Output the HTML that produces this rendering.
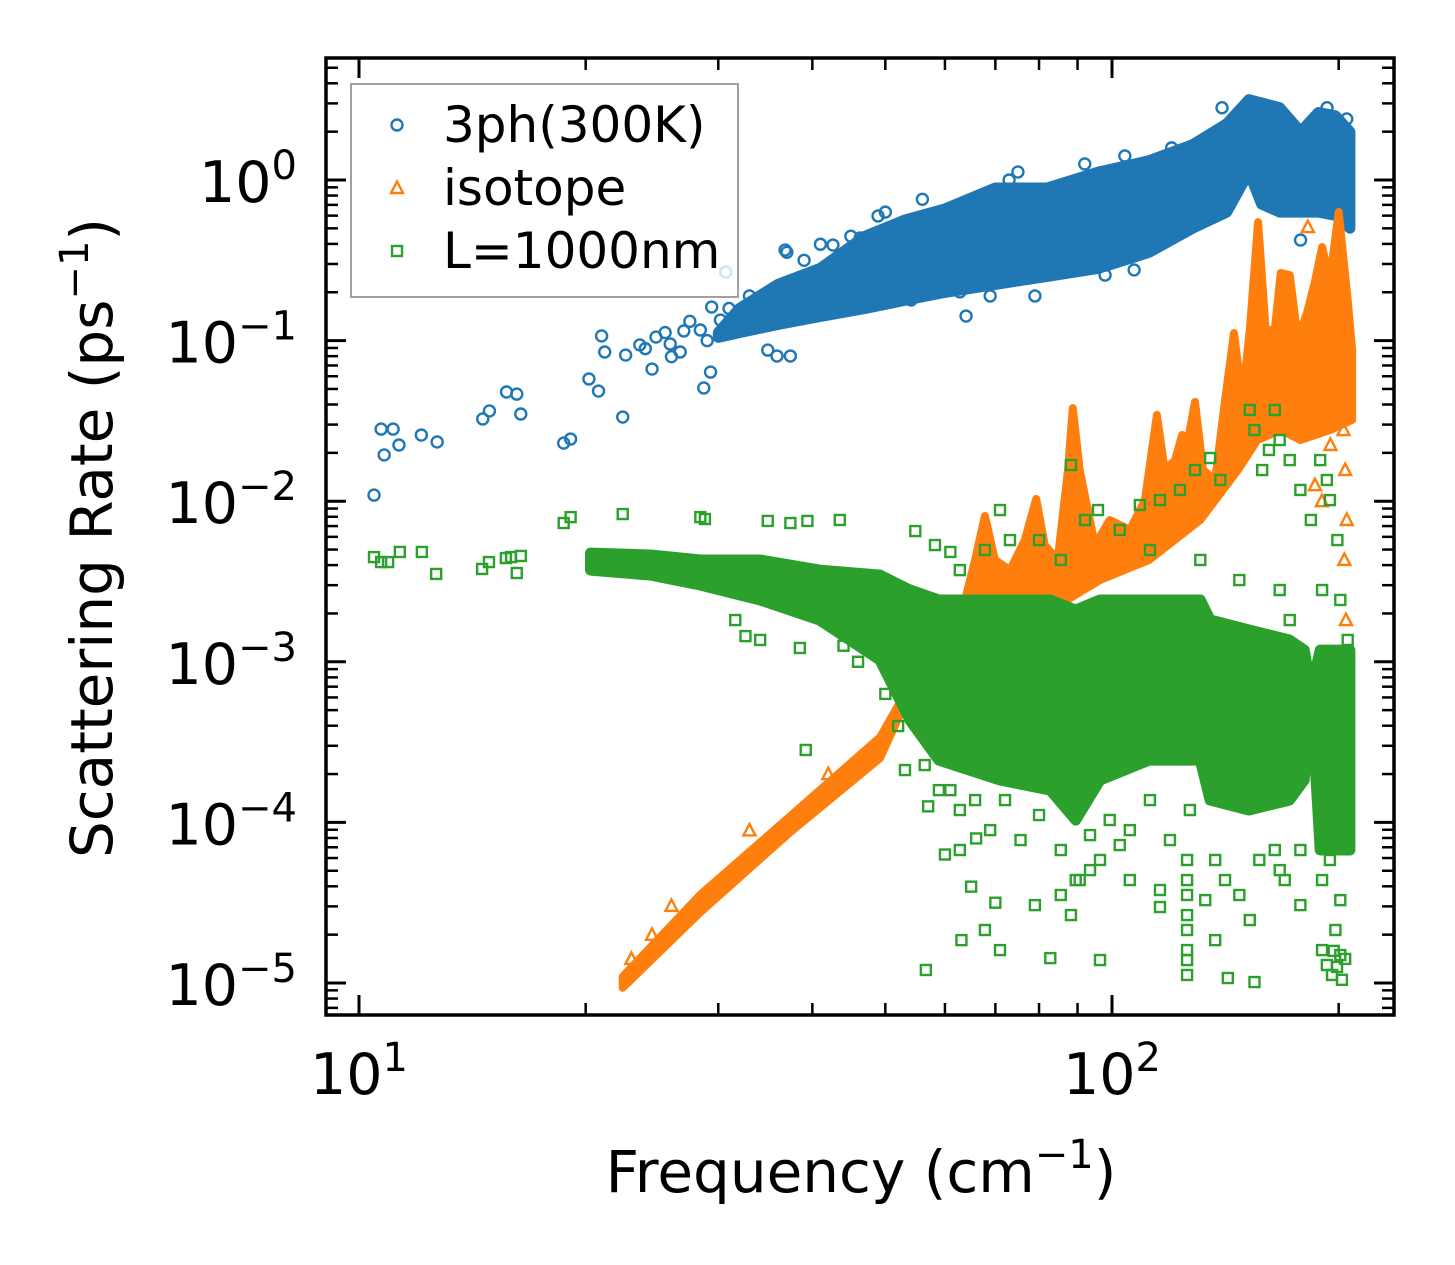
<!DOCTYPE html>
<html><head><meta charset="utf-8"><style>
html,body{margin:0;padding:0;background:#fff;}
svg{display:block;font-family:"DejaVu Sans","Liberation Sans",sans-serif;}
</style></head><body>
<svg id="chart" width="1455" height="1265" viewBox="0 0 1455 1265" xmlns="http://www.w3.org/2000/svg">
<rect width="1455" height="1265" fill="#fff"/>
<g id="plot"></g>
<g id="axes"></g>
</svg>
<script>
// ---- data (frequency in cm^-1, rate given as log10 of ps^-1) ----
const xTickValues = [10, 100];
const xTickExp = ["1", "2"];
const xMinorValues = [20,30,40,50,60,70,80,90,200];
const yTickExps = [0,-1,-2,-3,-4,-5];
const yTickLabels = ["0","\u22121","\u22122","\u22123","\u22124","\u22125"];

const phFreq = [10.47,10.7,10.8,11.1,11.3,12.1,12.7,14.6,14.9,15.7,16.2,16.4,18.7,19.1,20.2,20.8,21.0,21.2,22.4,22.6,23.6,24.5,24.8,25.9,26.7,27.0,28.4,28.7,29.3,29.4,30.2,30.7,32.1,33.0,34.9,35.9,37.4,36.8,38.5,40.1,42.6,44.9,46.3,48.9,52.8,54.1,57.3,59.8,62.8,64.0,68.9,72.1,79.0,86.7,97.9,107,116,123,138,147,157,171,178,201,25.5,27.5,31,33.5,26,29,31.5,24,73,75,92,104,120,140,162,193,205,37,39,41,45,50,56];
const phLogRate = [-1.962,-1.551,-1.712,-1.551,-1.65,-1.588,-1.631,-1.488,-1.438,-1.32,-1.333,-1.457,-1.638,-1.613,-1.239,-1.314,-0.971,-1.071,-1.476,-1.09,-1.027,-1.177,-0.978,-1.021,-1.071,-0.94,-0.934,-1.295,-1.196,-0.791,-0.872,-0.573,-0.822,-0.722,-1.059,-1.096,-1.096,-0.436,-0.716,-0.753,-0.405,-0.498,-0.361,-0.224,-0.548,-0.747,-0.691,-0.293,-0.697,-0.847,-0.722,-0.604,-0.722,-0.498,-0.592,-0.56,-0.33,-0.318,-0.156,0.075,-0.093,-0.156,-0.374,-0.237,-0.95,-0.88,-0.8,-0.78,-1.1,-1.0,-0.95,-1.05,0.0,0.05,0.1,0.15,0.2,0.45,0.45,0.45,0.38,-0.45,-0.5,-0.4,-0.35,-0.2,-0.12];
const phBandFreq = [30,32,36,41,47,53,60,70,82,96,112,128,142,152,158,167,178,188,198,207];
const phBandLow = [-0.98,-0.95,-0.9,-0.85,-0.8,-0.75,-0.7,-0.65,-0.6,-0.55,-0.45,-0.3,-0.2,0.05,-0.15,-0.2,-0.2,-0.2,-0.22,-0.3];
const phBandHigh = [-0.95,-0.8,-0.65,-0.55,-0.35,-0.25,-0.18,-0.05,-0.05,0.05,0.12,0.22,0.35,0.5,0.48,0.45,0.3,0.42,0.4,0.3];

const isoUpperFreq = [22.4,28.4,37.4,49.2,57.3,61.0,63.8,65.8,67.8,69.9,73.2,76.6,79.3,81.4,84.7,87.4,88.7,90.6,94.9,99.3,105.6,110.6,114.7,117.5,121.3,123.9,126.2,128.9,132.1,137.1,141.3,145.2,148.9,152.4,156.3,160.0,164.5,167.5,172.2,176.6,182.0,186.2,190.1,194.7,200.0,205.6,208.4];
const isoUpperLogRate = [-4.96,-4.45,-3.96,-3.47,-2.927,-2.678,-2.615,-2.366,-2.092,-2.366,-2.429,-2.242,-1.986,-2.273,-2.366,-1.806,-1.42,-1.806,-2.273,-2.117,-2.179,-1.993,-1.463,-1.806,-1.744,-1.588,-1.619,-1.382,-1.806,-1.868,-1.37,-0.953,-1.37,-0.934,-0.262,-0.934,-0.934,-0.579,-0.592,-0.996,-0.81,-0.623,-0.417,-0.623,-0.199,-0.747,-1.059];
const isoLowerFreq = [22.4,28.4,37.4,49.2,54.1,61.0,71.0,82.8,96.4,112,131,147,156,167.5,178,194.7,208.4];
const isoLowerLogRate = [-5.03,-4.56,-4.06,-3.6,-3.176,-2.927,-2.74,-2.678,-2.491,-2.366,-2.117,-1.806,-1.619,-1.557,-1.619,-1.557,-1.494];
const isoFreq = [203,204,205,203.5,204.5,182,200,206,198,195,190,186,23,24.5,26,33,42];
const isoLogRate = [-1.557,-1.806,-2.117,-2.366,-2.74,-0.293,-1.2,-1.4,-1.3,-1.65,-2.0,-1.9,-4.85,-4.7,-4.52,-4.05,-3.7];

const bdBandFreq = [20.3,24.4,28.4,34.1,40.9,49.2,53.9,58.9,71.0,82.8,89.5,96.4,112,131,135,152,172,180,184,189,207];
const bdBandLow = [-2.429,-2.46,-2.522,-2.615,-2.74,-2.989,-3.363,-3.612,-3.736,-3.799,-3.985,-3.736,-3.612,-3.612,-3.861,-3.923,-3.861,-3.736,-3.238,-4.172,-4.172];
const bdBandHigh = [-2.323,-2.335,-2.366,-2.366,-2.429,-2.46,-2.553,-2.615,-2.615,-2.615,-2.678,-2.615,-2.615,-2.615,-2.74,-2.802,-2.864,-2.927,-3.176,-2.927,-2.927];
const bdFreq = [10.47,10.7,10.93,11.33,12.12,12.66,14.57,14.88,15.67,15.92,16.2,16.4,18.7,19.1,22.4,28.4,28.8,34.9,37.4,39.4,43.5,39.2,54.8,58.2,61.0,31.6,32.6,34.1,38.5,49.2,53.1,56.4,61.0,62.8,63.1,56.6,67.8,71.0,79.0,82.8,85.5,88.2,90.6,93.5,96.4,96.4,102.4,105.6,115.8,115.8,125.8,125.8,125.8,125.8,125.8,125.8,125.8,125.8,137.1,142.5,152.4,154.6,167.0,177.9,190.1,192.9,194.7,198,201,196,199,202,204,197,
88.2,92.1,95.8,102.4,108.9,115.8,123.1,128.9,135,139.3,152.4,154.6,158.3,161.6,164.5,167,172.2,177.9,183.7,189,192.9,194.7,199.2,190.1,172.2,80,71,67.8,62.8,73.2,85.5,112.3,131,147.6,167,201,205.6,
58.9,62.8,65.8,68.9,72.1,75.6,80,85.5,89.5,93.5,99.3,105.6,112.3,119.4,126.9,133,137.1,141.3,147.6,156.9,164.5,169.6,177.9,190.1,201,
44,46,48,50,52,55,57,60,65,66,70];
const bdLogRate = [-2.348,-2.379,-2.379,-2.316,-2.316,-2.453,-2.422,-2.379,-2.354,-2.348,-2.447,-2.341,-2.136,-2.099,-2.08,-2.099,-2.111,-2.123,-2.136,-2.123,-2.117,-3.549,-2.186,-2.273,-2.316,-2.74,-2.84,-2.864,-2.914,-2.615,-3.674,-3.643,-3.799,-4.172,-4.733,-4.919,-4.67,-4.795,-4.515,-4.845,-4.452,-4.577,-4.359,-4.297,-4.234,-4.857,-4.141,-4.359,-4.421,-4.527,-4.234,-4.359,-4.452,-4.577,-4.67,-4.795,-4.857,-4.95,-4.733,-4.969,-4.608,-4.994,-4.297,-4.515,-4.795,-4.888,-4.234,-4.67,-4.826,-4.95,-4.9,-4.98,-4.85,-4.8,
-1.775,-2.117,-2.055,-2.179,-2.024,-1.993,-1.93,-1.806,-1.731,-1.868,-1.432,-1.557,-1.806,-1.681,-1.432,-1.619,-1.744,-1.93,-2.117,-1.744,-1.868,-1.993,-2.242,-2.553,-2.74,-2.242,-2.055,-2.304,-2.429,-2.242,-2.366,-2.304,-2.366,-2.491,-2.553,-2.615,-2.864,
-3.799,-3.923,-3.861,-4.048,-3.861,-4.11,-3.954,-4.172,-4.359,-4.079,-3.985,-4.048,-3.861,-4.11,-3.923,-4.484,-4.234,-4.359,-4.452,-4.234,-4.172,-4.359,-4.172,-4.359,-4.484,
-2.9,-3.0,-2.7,-3.2,-3.4,-3.3,-3.9,-4.2,-4.4,-4.1,-4.5];

// ---- axis functions ----
const X0 = 359, XDEC = 753, Y0 = 180, YDEC = 160.6;
const FL = 326, FR = 1394, FT = 58, FB = 1015;
function xs(f){ return X0 + (Math.log10(f) - 1) * XDEC; }
function ys(e){ return Y0 - e * YDEC; }

const NS = "http://www.w3.org/2000/svg";
function mk(tag, attrs, parent){
  const el = document.createElementNS(NS, tag);
  for (const k in attrs) el.setAttribute(k, attrs[k]);
  parent.appendChild(el);
  return el;
}
const plot = document.getElementById('plot');
const axes = document.getElementById('axes');
const C1 = "#1f77b4", C2 = "#ff7f0e", C3 = "#2ca02c";

const clip = mk('clipPath', {id:'clipf'}, plot);
mk('rect', {x:FL, y:FT, width:FR-FL, height:FB-FT}, clip);
const pg = mk('g', {'clip-path':'url(#clipf)'}, plot);

function band(freq, lo, hi, color, name, sw){
  const pts = [];
  for (let i=0;i<freq.length;i++) pts.push(xs(freq[i]).toFixed(1)+','+ys(hi[i]).toFixed(1));
  for (let i=freq.length-1;i>=0;i--) pts.push(xs(freq[i]).toFixed(1)+','+ys(lo[i]).toFixed(1));
  const p = mk('polygon', {points:pts.join(' '), fill:color, stroke:color, 'stroke-width':sw, 'stroke-linejoin':'round'}, pg);
  
  
}
function band2(uf, ue, lf, le, color, name, sw){
  const pts = [];
  for (let i=0;i<uf.length;i++) pts.push(xs(uf[i]).toFixed(1)+','+ys(ue[i]).toFixed(1));
  for (let i=lf.length-1;i>=0;i--) pts.push(xs(lf[i]).toFixed(1)+','+ys(le[i]).toFixed(1));
  const p = mk('polygon', {points:pts.join(' '), fill:color, stroke:color, 'stroke-width':sw, 'stroke-linejoin':'round'}, pg);
  
  
}
function circle(cx, cy, parent){
  const c = mk('circle', {cx:cx, cy:cy, r:5.5, fill:'none', stroke:C1, 'stroke-width':2.4}, parent);
  
  
}
function tri(cx, cy, parent){
  const p = mk('polygon', {points:`${cx},${cy-6.5} ${cx-6},${cy+5} ${cx+6},${cy+5}`, fill:'none', stroke:C2, 'stroke-width':2.4}, parent);
  
  
}
function sq(cx, cy, parent){
  const r = mk('rect', {x:cx-5, y:cy-5, width:10, height:10, fill:'none', stroke:C3, 'stroke-width':2.4}, parent);
  
  
}

band(phBandFreq, phBandLow, phBandHigh, C1, 'band-3ph', 11);
for (let i=0;i<phFreq.length;i++) circle(xs(phFreq[i]), ys(phLogRate[i]), pg);
band2(isoUpperFreq, isoUpperLogRate, isoLowerFreq, isoLowerLogRate, C2, 'band-isotope', 8);
for (let i=0;i<isoFreq.length;i++) tri(xs(isoFreq[i]), ys(isoLogRate[i]), pg);
band(bdBandFreq, bdBandLow, bdBandHigh, C3, 'band-boundary', 11);
for (let i=0;i<bdFreq.length;i++) sq(xs(bdFreq[i]), ys(bdLogRate[i]), pg);

// ---- frame & ticks ----
const frame = mk('rect', {x:FL, y:FT, width:FR-FL, height:FB-FT, fill:'none', stroke:'#000', 'stroke-width':3.5}, axes);


function line(x1,y1,x2,y2,w){ return mk('line',{x1:x1,y1:y1,x2:x2,y2:y2,stroke:'#000','stroke-width':w},axes); }

xTickValues.forEach((v,i)=>{
  const x = xs(v);
  line(x,FB,x,FB-20,3); line(x,FT,x,FT+20,3);
  const t = mk('text',{x:x,y:1094,'text-anchor':'middle','font-size':57},axes);
  
  
  t.textContent = '10';
  const s = mk('tspan',{dy:-23,'font-size':40},t); s.textContent = xTickExp[i];
});
xMinorValues.forEach(v=>{ const x=xs(v); line(x,FB,x,FB-12,2.5); line(x,FT,x,FT+12,2.5); });
yTickExps.forEach((e,i)=>{
  const y = ys(e);
  line(FL,y,FL+20,y,3); line(FR,y,FR-20,y,3);
  const t = mk('text',{x:297,y:y+22,'text-anchor':'end','font-size':57},axes);
  
  
  t.textContent = '10';
  const s = mk('tspan',{dy:-23,'font-size':40},t); s.textContent = yTickLabels[i];
  for (let m=2;m<=9;m++){
    const ym = ys(e - 1 + Math.log10(m));
    if (ym>FT && ym<FB){ line(FL,ym,FL+12,ym,2.5); line(FR,ym,FR-12,ym,2.5); }
  }
});
for (let m=2;m<=9;m++){ const ym=ys(Math.log10(m)); if(ym>FT){ line(FL,ym,FL+12,ym,2.5); line(FR,ym,FR-12,ym,2.5);} }
</script>
<svg style="position:absolute;left:0;top:0" width="1455" height="1265" viewBox="0 0 1455 1265" xmlns="http://www.w3.org/2000/svg">
  <text x="861" y="1192" text-anchor="middle" font-family="DejaVu Sans, Liberation Sans, sans-serif" font-size="58">Frequency (cm<tspan dy="-24" font-size="40">−1</tspan><tspan dy="24">)</tspan></text>
  <text transform="translate(112,538) rotate(-90)" text-anchor="middle" font-family="DejaVu Sans, Liberation Sans, sans-serif" font-size="58">Scattering Rate (ps<tspan dy="-24" font-size="40">−1</tspan><tspan dy="24">)</tspan></text>
  <g>
    <rect x="351" y="84" width="387" height="213" fill="#fff" fill-opacity="0.8" stroke="#a0a0a0" stroke-width="2"/>
    <g>
      <circle cx="397" cy="125" r="5.5" fill="none" stroke="#1f77b4" stroke-width="2.4"/>
      <text x="443" y="142" font-family="DejaVu Sans, Liberation Sans, sans-serif" font-size="50">3ph(300K)</text>
    </g>
    <g>
      <polygon points="397,181.5 391,193 403,193" fill="none" stroke="#ff7f0e" stroke-width="2.4"/>
      <text x="443" y="205" font-family="DejaVu Sans, Liberation Sans, sans-serif" font-size="50">isotope</text>
    </g>
    <g>
      <rect x="392" y="246" width="10" height="10" fill="none" stroke="#2ca02c" stroke-width="2.4"/>
      <text x="443" y="268" font-family="DejaVu Sans, Liberation Sans, sans-serif" font-size="50">L=1000nm</text>
    </g>
  </g>
</svg>
</body></html>
